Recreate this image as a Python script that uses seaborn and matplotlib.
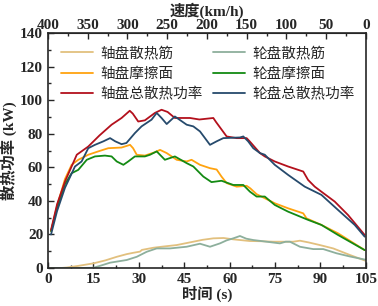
import numpy as np
import pandas as pd
import seaborn as sns
import matplotlib.pyplot as plt
from matplotlib.ticker import MultipleLocator

# time (s) / power (kW)
t_fin_axle = [1, 4, 6.2, 10, 15, 19, 22.7, 26, 28.2, 30.4, 31, 34.8, 38, 42.5, 48, 51, 54.6, 58, 61.2, 66.7, 70, 74.4, 81, 83.2, 86, 89.8, 94.2, 99.7, 104.8]
p_fin_axle = [0, 0, 0.3, 1.3, 2.8, 4.6, 6.7, 8.3, 9.1, 9.8, 10.8, 12.1, 12.8, 13.7, 15.7, 16.8, 17.7, 17.9, 17.1, 16.1, 16.0, 15.7, 15.7, 16.3, 15.3, 13.7, 11.7, 7.8, 4.4]

t_fin_wheel = [1, 10, 15, 17.5, 20.5, 26, 29.3, 32.6, 35.9, 40.3, 45.8, 50.2, 53.5, 56.8, 59, 61.2, 63.4, 65.5, 67.8, 72.2, 76.6, 78.5, 79.9, 83.2, 87.6, 90.9, 95.3, 99.7, 104.8]
p_fin_wheel = [0, 0, 0.2, 1.5, 3.2, 4.8, 6.7, 9.7, 11.7, 11.7, 12.7, 14.5, 12.7, 14.7, 16.5, 17.7, 19.1, 17.5, 16.7, 15.7, 14.7, 15.7, 15.7, 12.7, 11.3, 11.3, 8.8, 6.9, 5.0]

t_fric_axle = [1, 3, 5.6, 7.8, 10, 13.3, 16.6, 19.9, 24.3, 27.1, 28.1, 29.3, 32, 35.3, 37, 39.2, 42.5, 45.8, 47.4, 50.2, 53.5, 55.7, 57.3, 59, 62.3, 65.6, 66.8, 68.9, 71.6, 74.9, 79.3, 84.3, 85.4, 90.3, 95.8, 104.6]
p_fric_axle = [22, 37, 53, 61.5, 64.5, 67.5, 69.5, 71.4, 71.8, 73.4, 71.4, 67.5, 67.0, 69.0, 70.4, 68.5, 64.5, 63.5, 64.5, 61.5, 59.5, 58.7, 54.5, 50.6, 48.5, 49.0, 47.5, 44.0, 41.6, 38.6, 35.6, 32.6, 29.6, 25.7, 20.7, 10.7]

t_fric_wheel = [1, 3, 5.6, 7.8, 10, 12.8, 15.5, 18.8, 21, 22.7, 24.9, 26.5, 28.7, 32, 33.7, 35.9, 38.6, 41.9, 45.8, 48, 51.3, 54, 57.3, 61.2, 64.5, 66.7, 68.9, 71.6, 74.9, 79.3, 85.9, 90.3, 95.8, 104.6]
p_fric_wheel = [22, 36, 50, 56.5, 58.5, 64.5, 66.5, 67.0, 66.5, 63.5, 61.5, 63.5, 66.5, 66.5, 67.5, 69.5, 64.5, 66.5, 62.5, 60.5, 54.5, 51.2, 52.0, 49.5, 49.5, 45.5, 42.6, 42.6, 37.6, 33.6, 28.7, 25.7, 19.7, 10.7]

t_total_axle = [1, 3, 5.6, 9.5, 13.3, 17, 21, 24.3, 27, 28, 29.8, 32, 35.3, 37.5, 39.5, 41.9, 46.9, 50, 54.6, 55.5, 59, 62.3, 65.6, 66.6, 70, 71.6, 74.9, 79.3, 84.3, 85.9, 88.1, 90.3, 94.7, 99.1, 104.6]
p_total_axle = [22.7, 38, 51.5, 67.5, 72.4, 79, 85.4, 89.4, 93.7, 92, 87.3, 88, 92.4, 94.3, 93, 89.4, 89.4, 88.5, 89.4, 87, 78.4, 77.4, 77.4, 75.5, 68.5, 66.5, 63.5, 60.5, 57.5, 52.5, 48.5, 45.5, 39.6, 31.6, 19.7]

t_total_wheel = [1, 3, 5.6, 8.9, 11.1, 13.3, 15.5, 18.3, 20.5, 22.2, 24.3, 25.9, 28.7, 30.9, 34.2, 35.9, 37.5, 39.2, 41.9, 45.8, 48, 50.2, 53.5, 55.7, 57.9, 63.4, 64.5, 66.1, 67.8, 70, 71.6, 74.9, 79.3, 84.8, 90.3, 95.8, 101.3, 104.6]
p_total_wheel = [20, 34, 47.8, 60.5, 63.5, 71.4, 73.4, 75.5, 77.4, 75.5, 73.8, 74.5, 80.4, 84.4, 88.4, 92.4, 89.4, 85.8, 90.3, 85.4, 84.4, 81.4, 73.4, 75.5, 77.4, 77.8, 78.4, 75.5, 71.4, 68.5, 67.5, 61.5, 55.5, 48.5, 43.6, 34.6, 25.7, 18.7]

labels = ["轴盘散热筋", "轮盘散热筋", "轴盘摩擦面", "轮盘摩擦面", "轴盘总散热功率", "轮盘总散热功率"]
colors = ["#E2C07E", "#8DAF9C", "#FFA30F", "#138A13", "#B3101C", "#264A6C"]

series = [(t_fin_axle, p_fin_axle), (t_fin_wheel, p_fin_wheel),
          (t_fric_axle, p_fric_axle), (t_fric_wheel, p_fric_wheel),
          (t_total_axle, p_total_axle), (t_total_wheel, p_total_wheel)]

sns.set_style("ticks")
plt.rcParams['font.family'] = ['Liberation Serif', 'Noto Sans CJK SC']
plt.rcParams['font.weight'] = 'bold'

fig = plt.figure(figsize=(3.78, 3.06), dpi=100)
ax = fig.add_axes([0.127, 0.124, 0.841, 0.768])

for (t, p), lab, c in zip(series, labels, colors):
    sns.lineplot(x=t, y=p, ax=ax, color=c, label=lab, linewidth=1.3)

ax.set_xlim(0, 105)
ax.set_ylim(0, 140)
ax.xaxis.set_major_locator(MultipleLocator(15))
ax.xaxis.set_minor_locator(MultipleLocator(7.5))
ax.yaxis.set_major_locator(MultipleLocator(20))
ax.yaxis.set_minor_locator(MultipleLocator(10))
ax.tick_params(which='both', direction='in', labelsize=11, width=1)
ax.tick_params(which='major', length=4)
ax.tick_params(which='minor', length=2.5)
for s in ax.spines.values():
    s.set_linewidth(1.2)
ax.set_xlabel("时间 (s)", fontsize=11, fontweight='bold', labelpad=0)
ax.set_ylabel("散热功率 (kW)", fontsize=11, fontweight='bold', labelpad=2)

sec = ax.secondary_xaxis('top', functions=(lambda x: 400 - x * 400 / 105,
                                            lambda v: (400 - v) * 105 / 400))
sec.set_xticks([400, 350, 300, 250, 200, 150, 100, 50, 0])
sec.xaxis.set_minor_locator(MultipleLocator(25))
sec.tick_params(which='both', direction='in', labelsize=11, width=1, pad=1)
sec.tick_params(which='major', length=4)
sec.tick_params(which='minor', length=2.5)
sec.set_xlabel("速度(km/h)", fontsize=11, fontweight='bold', labelpad=2)

# matplotlib fills legend columns first; reorder so rows pair axle/wheel
handles, labs = ax.get_legend_handles_labels()
order = [0, 2, 4, 1, 3, 5]
ax.legend([handles[i] for i in order], [labs[i] for i in order],
          loc='upper left', ncol=2, frameon=False,
          handlelength=2.2, columnspacing=0.7, labelspacing=0.45,
          borderaxespad=0.6, borderpad=0.3, handletextpad=0.5,
          prop={'family': ['Noto Sans CJK SC'], 'size': 10.5, 'weight': 'normal'})

fig.savefig("out.png", dpi=100)
